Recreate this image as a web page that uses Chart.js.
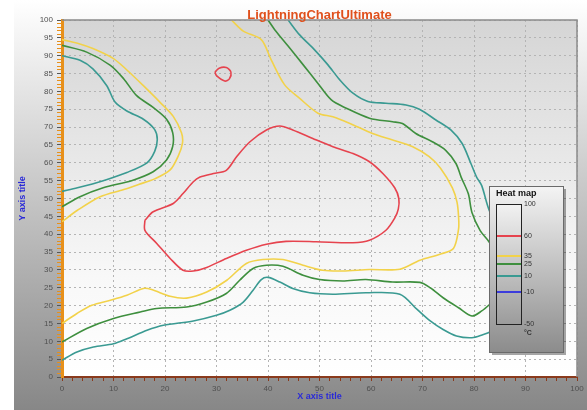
<!DOCTYPE html>
<html>
<head>
<meta charset="utf-8">
<title>LightningChartUltimate</title>
<script src="https://cdn.jsdelivr.net/npm/chart.js@4.4.1/dist/chart.umd.min.js"></script>
<style>
  html, body { margin: 0; padding: 0; background: #fff; }
  #grafico { display: block; }
</style>
</head>
<body>
<canvas id="grafico" width="587" height="410"></canvas>
<script>
// Isolíneas, pares [x, y]
const nivel60Grande = [[16.1,43.9],[17.7,46.3],[21.6,48.6],[23.5,51.4],[25.5,54.7],[26.8,56],[29.4,57],[31.9,57.9],[33.9,61.7],[36.5,65.9],[39.7,69.2],[42.3,70.3],[44.8,69.2],[48.7,66.8],[52.6,64.5],[56.5,62.6],[59.7,60.3],[62.3,57],[64.6,53],[65.4,50],[65.3,47],[64.6,44.5],[62.9,41.1],[59.7,38.3],[56.5,37.6],[49.4,37.9],[43.5,38],[39.7,37.2],[35.8,35.5],[31.9,33.2],[28.1,30.7],[25.5,29.7],[23.5,29.9],[21,33.2],[18.4,37.4],[16.1,41.1],[16.1,43.9]];
const nivel60Chico = [[29.7,85.4],[30.5,86.5],[31.9,86.7],[32.8,85.4],[32.5,83.5],[31.6,82.9],[30,84.4],[29.7,85.4]];

const nivel35Izq = [[0,94.5],[3,93.5],[6,92],[10,89.2],[12.6,86],[15.8,81.6],[19,77],[21.6,73],[23.2,68.4],[23.4,65.6],[22.6,62],[21,58],[18,55.5],[15,54],[12,52.5],[7.4,50.5],[3,46.7],[0,43.5]];
const nivel35 = [[32.9,100],[35.2,96.9],[38.7,94.5],[40.6,88.9],[43.2,81.9],[46.1,78.1],[49.7,73.9],[52.6,72.9],[55.8,71.1],[60.3,68.2],[64.2,66.4],[68.1,64.5],[71.3,61.7],[73.5,58.5],[75.8,53],[76.7,49],[77,45],[77,41.4],[76,36],[73.4,34.4],[69.5,32.7],[65.6,30.2],[59.7,30.1],[54.5,29.7],[50.6,29.9],[46.8,31.3],[42.9,32.9],[39,32.9],[35.8,31.8],[32,27.1],[28.1,23.8],[24.2,22.1],[21,22.6],[17.4,24.5],[15.8,24.8],[12.6,22.9],[9.4,21.5],[5.8,20.1],[2.9,17.8],[0,15]];

const nivel25Izq = [[0,92.9],[4.8,91],[9.4,87.3],[12,83.5],[14.5,78.8],[17.7,75.5],[20.3,72.2],[21.5,68.4],[21.5,64.6],[20.3,60.8],[17.7,57.5],[13.5,55],[8,53],[3.5,50.5],[0,47.7]];
const nivel25 = [[40,100],[41.3,97.3],[43.9,92.7],[46.8,87.5],[49.4,82.8],[52.3,77.6],[55.2,75.3],[59.7,72.5],[64.2,71.5],[66.1,71],[68.7,68.2],[71.9,65.9],[74.5,63.5],[76.5,59.8],[77.5,56],[78.9,51.3],[79.6,46.1],[81.2,41],[82.8,38.1],[85,33],[85.8,28],[85,23],[83.1,20.4],[81.5,18.5],[79.6,17.1],[77,19.4],[74,22.2],[71.5,25],[69.5,26.5],[64.2,26.6],[59,27.3],[54.5,26.9],[50,27.3],[46.8,28.5],[42.9,31],[39.7,31.3],[37.1,30.4],[34.5,27.1],[31.9,23.4],[28.1,21],[24.2,19.6],[18.4,19.2],[15.2,18.2],[10,16.4],[4.8,13.6],[0,9.8]];

const nivel10Izq = [[0,90],[3.5,88.7],[6,86.3],[8.7,81.6],[10.3,77],[12.6,74.5],[15.8,72.2],[18,69.3],[18.5,66.5],[18,63.2],[16.5,60],[12.6,57.3],[8,55],[3,53],[0,52]];
const nivel10 = [[43.9,100],[46.1,95.9],[49,91.7],[51.6,87.5],[53.9,83.3],[56.5,79.5],[59.4,77.2],[62.9,76.7],[66.8,76.2],[69.4,75],[72.6,72],[75.5,69.2],[77.7,65.4],[79.4,59.8],[80.5,56],[81.5,53.6],[83.1,46.2],[86,40],[87.5,30],[87,20],[85,14.5],[83.1,12.6],[81.8,11.9],[79.6,11],[76.6,11.5],[74,13.3],[71.5,15.7],[68.9,19],[65.6,23.2],[59,23.6],[52.6,23.2],[48.1,23.6],[44.8,24.8],[42.3,26.6],[40,27.9],[38.7,27.3],[37.1,24.3],[35.2,21],[32.6,18.7],[30,17.3],[25.5,15.7],[19.7,14.5],[16.5,13.1],[12.6,10.7],[10,9.3],[6.1,8.4],[2.9,7],[0,4.7]];

// Escala de la leyenda
const nivelesLeyenda = [100, 60, 35, 25, 10, -10, -50];
const nivelesColor = [60, 35, 25, 10, -10];
const coloresNivel = ['#e6434e', '#f2d24a', '#3e8f3e', '#3a9a92', '#3c3cdc'];

function colorDe(nivel) {
    return coloresNivel[nivelesColor.indexOf(nivel)];
}

function serie(puntos, nivel) {
    return {
        data: puntos.map(p => ({ x: p[0], y: p[1] })),
        showLine: true,
        borderColor: colorDe(nivel),
        borderWidth: 1.6,
        pointRadius: 0,
        tension: 0.3,
        fill: false
    };
}

// Fondo del panel y del área de trazado
const fondo = {
    id: 'fondo',
    beforeDraw(chart) {
        const { ctx, chartArea: a } = chart;
        ctx.save();
        ctx.fillStyle = '#ffffff';
        ctx.fillRect(0, 0, chart.width, chart.height);
        let g = ctx.createLinearGradient(0, 0, 0, chart.height);
        g.addColorStop(0, '#ffffff');
        g.addColorStop(1, '#878787');
        ctx.fillStyle = g;
        ctx.fillRect(14, 0, chart.width - 14, chart.height);
        g = ctx.createLinearGradient(0, a.top, 0, a.bottom);
        g.addColorStop(0, '#d5d5d5');
        g.addColorStop(0.72, '#f8f8f8');
        g.addColorStop(1, '#ffffff');
        ctx.fillStyle = g;
        ctx.fillRect(a.left, a.top, a.right - a.left, a.bottom - a.top);
        ctx.restore();
    }
};

// Borde, título y leyenda "Heat map"
const adornos = {
    id: 'adornos',
    afterDraw(chart) {
        const { ctx, chartArea: a } = chart;
        ctx.save();
        ctx.strokeStyle = '#8a8a8a';
        ctx.lineWidth = 1.5;
        ctx.beginPath();
        ctx.moveTo(a.left, a.top);
        ctx.lineTo(a.right, a.top);
        ctx.lineTo(a.right, a.bottom);
        ctx.stroke();

        // leyenda
        const lx = 489, ly = 186, lw = 74, lh = 166;
        ctx.fillStyle = 'rgba(0,0,0,0.35)';
        ctx.fillRect(lx + 3, ly + 3, lw, lh);
        let g = ctx.createLinearGradient(0, ly, 0, ly + lh);
        g.addColorStop(0, '#f4f4f4');
        g.addColorStop(1, '#8c8c8c');
        ctx.fillStyle = g;
        ctx.fillRect(lx, ly, lw, lh);
        ctx.strokeStyle = '#6a6a6a';
        ctx.lineWidth = 1;
        ctx.strokeRect(lx + 0.5, ly + 0.5, lw, lh);

        ctx.fillStyle = '#111';
        ctx.font = 'bold 9px "Liberation Sans", Arial, sans-serif';
        ctx.textAlign = 'left';
        ctx.textBaseline = 'middle';
        ctx.fillText('Heat map', 496, 194);

        const bx = 496, by = 204, bw = 25, bh = 120;
        g = ctx.createLinearGradient(0, by, 0, by + bh);
        g.addColorStop(0, '#f2f2f2');
        g.addColorStop(1, '#9c9c9c');
        ctx.fillStyle = g;
        ctx.fillRect(bx, by, bw, bh);
        ctx.strokeStyle = '#222';
        ctx.strokeRect(bx + 0.5, by + 0.5, bw, bh);

        const yDe = v => by + (100 - v) / 150 * bh;
        ctx.lineWidth = 2;
        nivelesColor.forEach((v, i) => {
            ctx.strokeStyle = coloresNivel[i];
            ctx.beginPath();
            ctx.moveTo(bx + 1, yDe(v));
            ctx.lineTo(bx + bw, yDe(v));
            ctx.stroke();
        });
        ctx.fillStyle = '#333';
        ctx.font = '7px "Liberation Sans", Arial, sans-serif';
        nivelesLeyenda.forEach(v => ctx.fillText(String(v), 524, yDe(v) + 0.5));
        ctx.font = 'bold 7px "Liberation Sans", Arial, sans-serif';
        ctx.fillText('°C', 524, 333);

        // título
        ctx.font = 'bold 13px "Liberation Sans", Arial, sans-serif';
        ctx.textAlign = 'center';
        ctx.fillStyle = '#e0501c';
        ctx.fillText('LightningChartUltimate', (a.left + a.right) / 2, 15);
        ctx.restore();
    }
};

const esMultiplo = (v, m) => Math.round(v) % m === 0;
const fuenteTicks = { family: '"Liberation Sans", Arial, sans-serif', size: 8 };

new Chart(document.getElementById('grafico'), {
    type: 'scatter',
    data: {
        datasets: [
            serie(nivel10Izq, 10), serie(nivel10, 10),
            serie(nivel25Izq, 25), serie(nivel25, 25),
            serie(nivel35Izq, 35), serie(nivel35, 35),
            serie(nivel60Grande, 60), serie(nivel60Chico, 60)
        ]
    },
    options: {
        responsive: false,
        animation: false,
        layout: { padding: { top: 20, right: 10, left: 0, bottom: 0 } },
        plugins: {
            legend: { display: false },
            tooltip: { enabled: false },
            title: { display: false }
        },
        scales: {
            x: {
                type: 'linear',
                min: 0,
                max: 100,
                afterFit: s => { s.height = 33; },
                ticks: {
                    stepSize: 2,
                    autoSkip: false,
                    maxRotation: 0,
                    padding: 3,
                    color: '#505050',
                    font: fuenteTicks,
                    callback: v => esMultiplo(v, 10) ? v : ''
                },
                grid: {
                    color: c => c.tick && esMultiplo(c.tick.value, 10) ? '#b4b4b4' : 'rgba(0,0,0,0)',
                    tickColor: '#8a3a1c',
                    tickLength: 4
                },
                border: { color: '#8a3a1c', width: 2, dash: [2, 3] },
                title: {
                    display: true,
                    text: 'X axis title',
                    color: '#2a2ad8',
                    font: { family: '"Liberation Sans", Arial, sans-serif', size: 9, weight: 'bold' },
                    padding: { top: 0, bottom: 8 }
                }
            },
            y: {
                min: 0,
                max: 100,
                afterFit: s => { s.width = 62; },
                ticks: {
                    stepSize: 1,
                    autoSkip: false,
                    padding: 4,
                    color: '#505050',
                    font: fuenteTicks,
                    callback: v => esMultiplo(v, 5) ? v : ''
                },
                grid: {
                    color: c => c.tick && esMultiplo(c.tick.value, 5) ? '#b4b4b4' : 'rgba(0,0,0,0)',
                    tickColor: c => c.tick && esMultiplo(c.tick.value, 5) ? '#555' : '#e8901a',
                    tickLength: 5
                },
                border: { color: '#e8901a', width: 3, dash: [2, 3] },
                title: {
                    display: true,
                    text: 'Y axis title',
                    color: '#2a2ad8',
                    font: { family: '"Liberation Sans", Arial, sans-serif', size: 9, weight: 'bold' },
                    padding: { top: 17, bottom: 0 }
                }
            }
        }
    },
    plugins: [fondo, adornos]
});
</script>
</body>
</html>
